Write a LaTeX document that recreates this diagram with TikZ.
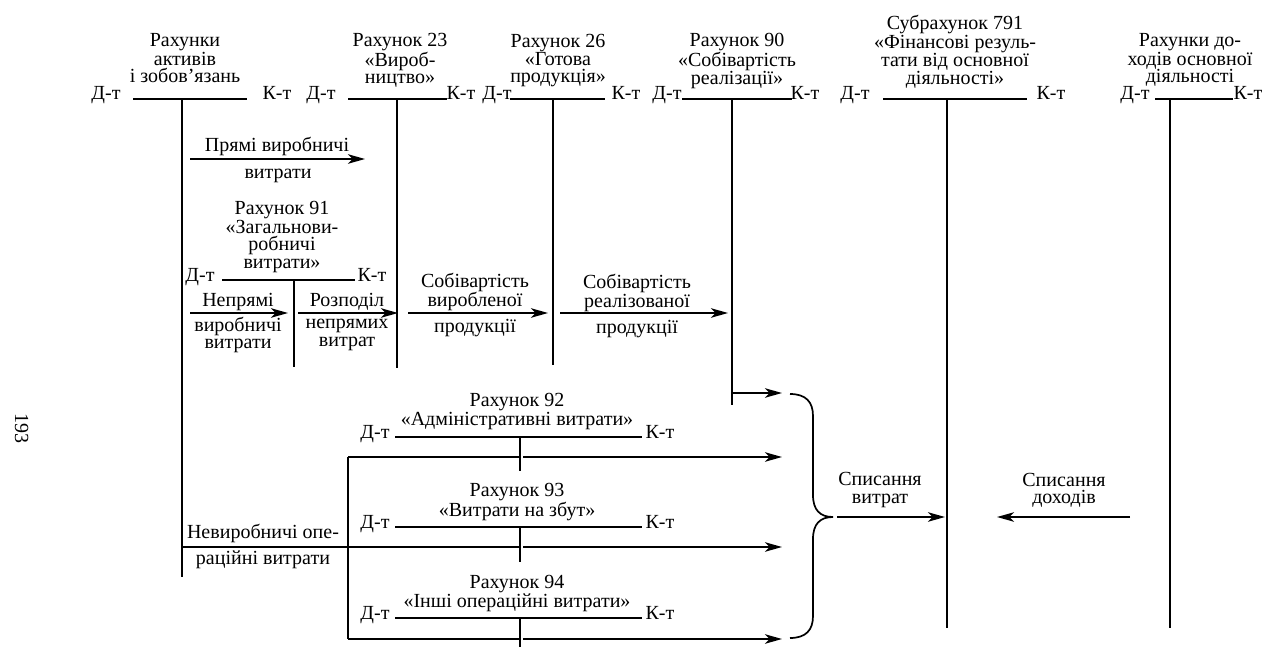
\documentclass[tikz,border=0pt]{standalone}
\usepackage{fontspec}
\setmainfont{Liberation Serif}
\usetikzlibrary{arrows.meta, positioning}

\begin{document}
\begin{tikzpicture}[x=1pt, y=-1pt,
  lbl/.style={font=\fontsize{20}{17.3}\selectfont, inner sep=0pt, align=center,
              execute at begin node=\vphantom{бу}, execute at end node=\vphantom{бу}},
  side/.style={font=\fontsize{20}{17.3}\selectfont, inner sep=0pt, anchor=base},
  tline/.style={line width=1.7pt},
  flow/.style={line width=1.7pt, -{Stealth[length=17pt, width=9.5pt, inset=4.5pt]}},
]
  \useasboundingbox (0,0) rectangle (1263,647);

  \node[lbl, rotate=-90] (page) at (20,428) {193};

  % account titles
  \node[lbl] (t1) at (185,60) {Рахунки\\активів\\і зобов’язань};
  \node[lbl] (t23) at (400,60.5) {Рахунок 23\\«Вироб-\\ництво»};
  \node[lbl] (t26) at (558,60.5) {Рахунок 26\\«Готова\\продукція»};
  \node[lbl] (t90) at (737,61) {Рахунок 90\\«Собівартість\\реалізації»};
  \node[lbl] (t791) at (955,52) {Субрахунок 791\\«Фінансові резуль-\\тати від основної\\діяльності»};
  \node[lbl] (tinc) at (1190,60.5) {Рахунки до-\\ходів основної\\діяльності};
  \node[lbl] (t91) at (282,237) {Рахунок 91\\«Загальнови-\\робничі\\витрати»};
  \node[lbl] (t92) at (517,411.5) {Рахунок 92\\«Адміністративні витрати»};
  \node[lbl] (t93) at (517,502) {Рахунок 93\\«Витрати на збут»};
  \node[lbl] (t94) at (517,593.5) {Рахунок 94\\«Інші операційні витрати»};

  % T-accounts: name/line y/debit x/line from/line to/stem x/credit x/stem end
  \foreach \nm/\y/\dx/\la/\lb/\vx/\kx/\vb in {
      a1/99/106/133/247/182/277/577, a23/99/321/348/447/397/461/368,
      a26/99/497/510/605/553/626/365, a90/99/667/682/792/732/805/405,
      a791/99/855/883/1027/947/1051/628, ainc/99/1135/1155/1233/1170/1248/628,
      a91/280/200/222/355/294/372/367, a92/437/375/395/642/520/660/471,
      a93/527/375/395/642/520/660/562, a94/618/375/395/642/520/660/647}{
    \node[side] (\nm-d) at (\dx,\y+1) {Д-т};
    \node[side] (\nm-k) at (\kx,\y+1) {К-т};
    \coordinate (\nm-L) at (\la,\y);
    \coordinate (\nm-R) at (\lb,\y);
    \coordinate (\nm-T) at (\vx,\y);
    \coordinate (\nm-B) at (\vx,\vb);
    \draw[tline] (\nm-L) -- (\nm-R) (\nm-T) -- (\nm-B);
  }

  % production costs
  \coordinate (dir-s) at (190,159); \coordinate (dir-e) at (365,159);
  \draw[flow] (dir-s) -- (dir-e);
  \node[lbl] (dir-a) at (277,147) {Прямі виробничі};
  \node[lbl] (dir-b) at (278,174) {витрати};

  \coordinate (ind-s) at (190,313); \coordinate (ind-e) at (288,313);
  \draw[flow] (ind-s) -- (ind-e);
  \node[lbl] (ind-a) at (238,301) {Непрямі};
  \node[lbl] (ind-b) at (238,335) {виробничі\\витрати};

  \coordinate (alc-s) at (298,313); \coordinate (alc-e) at (398,313);
  \draw[flow] (alc-s) -- (alc-e);
  \node[lbl] (alc-a) at (347,301) {Розподіл};
  \node[lbl] (alc-b) at (347,335) {непрямих\\витрат};

  \coordinate (mfg-s) at (408,313); \coordinate (mfg-e) at (548,313);
  \draw[flow] (mfg-s) -- (mfg-e);
  \node[lbl] (mfg-a) at (475,292) {Собівартість\\виробленої};
  \node[lbl] (mfg-b) at (475,327) {продукції};

  \coordinate (sld-s) at (560,313); \coordinate (sld-e) at (728,313);
  \draw[flow] (sld-s) -- (sld-e);
  \node[lbl] (sld-a) at (637,293) {Собівартість\\реалізованої};
  \node[lbl] (sld-b) at (637,328) {продукції};

  % operating expenses
  \coordinate (cg-s) at (732,393); \coordinate (cg-e) at (782,393);
  \draw[flow] (cg-s) -- (cg-e);

  \coordinate (op-s) at (182,547); \coordinate (op-j) at (520,547);
  \coordinate (bk-t) at (348,457); \coordinate (bk-b) at (348,639);
  \coordinate (bk-tj) at (520,457); \coordinate (bk-bj) at (520,639);
  \draw[tline] (op-s) -- (op-j) (bk-t) -- (bk-b) (bk-t) -- (bk-tj) (bk-b) -- (bk-bj);
  \node[lbl] (op-a) at (263,533) {Невиробничі опе-};
  \node[lbl] (op-b) at (263,559) {раційні витрати};

  \foreach \nm/\y in {ad/457, sl/547, ot/639}{
    \coordinate (\nm-s) at (523,\y); \coordinate (\nm-e) at (782,\y);
    \draw[flow] (\nm-s) -- (\nm-e);
  }

  % brace
  \coordinate (br-top) at (790,394); \coordinate (br-tip) at (833,517);
  \coordinate (br-bot) at (790,638);
  \draw[tline] (br-top) .. controls (806,394) and (813,402) .. (813,416) -- (813,495)
    .. controls (813,510) and (820,517) .. (br-tip)
    .. controls (820,517) and (813,524) .. (813,539) -- (813,616)
    .. controls (813,630) and (806,638) .. (br-bot);

  % write-offs
  \coordinate (wc-s) at (837,517); \coordinate (wc-e) at (945,517);
  \draw[flow] (wc-s) -- (wc-e);
  \node[lbl] (wc) at (880,490) {Списання\\витрат};

  \coordinate (wi-s) at (1130,517); \coordinate (wi-e) at (997,517);
  \draw[flow] (wi-s) -- (wi-e);
  \node[lbl] (wi) at (1064,490.5) {Списання\\доходів};
\end{tikzpicture}
\end{document}
